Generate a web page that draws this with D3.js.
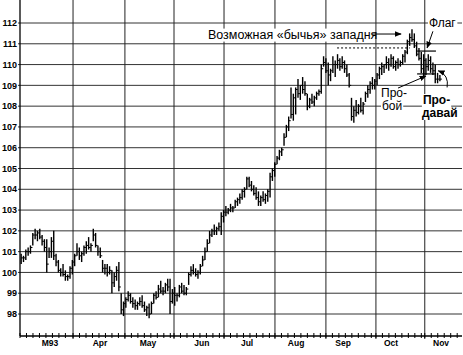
<!DOCTYPE html>
<html>
<head>
<meta charset="utf-8">
<script src="https://cdn.jsdelivr.net/npm/d3@7"></script>
<style>
body { margin: 0; background: #fff; }
svg { display: block; }
text { font-family: "Liberation Sans", Arial, sans-serif; fill: #000; }
</style>
</head>
<body>
<div id="chart"></div>
<script>
// daily high / low / close, Mar - Nov 1993
const hi = [
  100.9,100.8,101.1,101.2,101.3,101.9,102.1,102.0,102.1,101.8,
  101.6,101.6,101.2,101.7,102.0,100.9,100.6,100.2,100.4,100.1,
  99.9,100.3,100.6,100.9,101.4,101.2,101.0,101.3,101.5,101.7,
  101.4,102.1,101.9,101.3,101.2,100.6,100.4,100.4,100.3,100.1,
  100.0,100.3,100.5,99.0,98.6,98.8,99.1,99.0,98.8,98.7,
  98.6,98.8,98.9,98.6,98.4,98.5,98.6,99.0,99.1,99.4,
  99.6,99.3,99.5,99.7,99.7,99.2,99.3,99.0,99.4,99.5,
  99.4,99.3,100.0,100.3,100.4,100.2,100.1,100.4,100.8,101.2,
  101.6,102.0,102.1,102.3,102.2,102.4,102.9,103.0,103.2,103.1,
  103.3,103.2,103.5,103.6,103.8,104.0,104.1,104.6,104.6,104.4,
  104.2,104.1,103.9,103.7,103.9,103.8,104.0,104.8,105.0,105.3,
  105.6,105.9,106.0,106.7,107.1,107.5,108.9,108.6,108.9,109.3,
  109.0,109.4,109.2,108.6,108.4,108.6,108.5,108.7,108.8,110.0,
  110.4,110.3,110.1,109.8,110.4,110.2,110.5,110.3,110.4,110.2,
  110.0,109.6,108.4,108.0,108.3,108.1,108.4,108.2,108.7,109.0,
  109.2,109.4,109.3,109.6,109.9,110.1,110.0,110.4,110.3,110.5,
  110.4,110.2,110.3,110.2,110.5,110.7,111.2,111.5,111.7,111.5,
  111.1,110.8,110.6,110.5,110.3,110.5,110.4,110.1,110.0,109.6,
  109.5
];
const lo = [
  100.4,100.5,100.6,100.8,100.9,101.3,101.6,101.5,101.6,101.3,
  101.0,100.0,100.7,100.7,100.6,100.3,100.0,99.8,99.8,99.6,
  99.6,99.7,99.9,100.3,100.8,100.6,100.5,100.8,100.9,101.1,
  101.0,101.5,101.2,100.8,100.7,100.0,99.9,99.8,99.9,99.0,
  99.3,99.6,99.1,98.0,97.9,98.3,98.6,98.5,98.3,98.2,
  98.2,98.4,98.3,98.1,97.9,97.8,98.0,98.5,98.7,98.8,
  99.0,98.9,99.0,99.1,98.0,98.5,98.4,98.6,98.8,99.0,
  98.9,98.9,99.4,99.8,99.9,99.8,99.7,99.9,100.3,100.6,
  101.0,101.4,101.7,101.8,101.8,102.0,101.8,102.4,102.7,102.8,
  102.9,102.9,103.1,103.2,103.3,103.5,103.6,104.0,104.1,103.9,
  103.7,103.5,103.2,103.2,103.4,103.3,103.4,103.6,104.4,104.6,
  105.2,105.4,105.6,106.1,106.5,106.8,107.4,107.3,107.6,108.4,
  108.3,108.6,108.5,107.8,107.9,108.1,108.0,108.3,108.5,108.6,
  109.9,109.6,109.0,109.2,109.6,109.4,109.8,109.7,109.8,109.6,
  109.4,108.9,107.3,107.2,107.5,107.6,107.7,107.6,108.2,108.4,
  108.6,108.8,108.8,109.0,109.3,109.5,109.6,109.8,109.7,109.9,
  109.8,109.7,109.8,109.9,110.0,110.1,110.5,110.9,111.1,110.8,
  110.4,110.2,109.6,109.4,109.5,109.7,109.6,109.5,109.1,109.1,
  109.2
];
const cl = [
  100.7,100.7,101.0,101.0,101.2,101.8,101.8,101.9,101.7,101.5,
  101.2,100.4,101.0,101.5,100.8,100.5,100.1,100.0,99.9,99.8,
  99.8,100.2,100.5,100.8,101.0,100.8,100.9,101.2,101.3,101.2,
  101.3,101.8,101.3,101.0,100.8,100.2,100.2,100.0,100.1,99.5,
  99.8,100.1,99.3,98.2,98.5,98.7,98.9,98.6,98.5,98.4,
  98.5,98.6,98.4,98.2,98.3,98.0,98.5,98.9,98.8,99.2,
  99.1,99.1,99.4,99.3,98.6,99.0,98.9,98.9,99.3,99.1,
  99.0,99.2,99.9,100.1,100.0,99.9,100.0,100.3,100.6,101.0,
  101.4,101.8,102.0,102.0,102.1,102.2,102.7,102.9,102.9,103.0,
  103.1,103.1,103.4,103.5,103.6,103.9,104.0,104.5,104.2,104.0,
  103.8,103.6,103.4,103.6,103.5,103.7,103.9,104.6,104.9,105.2,
  105.5,105.8,105.9,106.5,107.0,107.3,107.6,108.4,108.8,108.6,
  109.0,108.8,108.6,108.0,108.3,108.2,108.4,108.6,108.7,109.8,
  110.1,109.7,109.5,109.7,110.0,110.0,110.2,109.9,110.1,109.8,
  109.5,109.0,107.5,107.8,107.7,108.0,107.8,108.1,108.6,108.8,
  109.1,109.0,109.2,109.5,109.8,109.9,110.0,110.1,110.0,110.3,
  109.9,110.1,110.0,110.1,110.4,110.6,111.1,111.3,111.2,110.9,
  110.5,110.3,109.8,110.2,109.9,110.2,109.8,109.7,109.3,109.3,
  109.3
];

const priceTicks = [98,99,100,101,102,103,104,105,106,107,108,109,110,111,112];
const monthBreaks = [22.8, 45.1, 66.2, 87.7, 109.6, 131.5, 153.0, 174.0];
const monthNames = ['M93','Apr','May','Jun','Jul','Aug','Sep','Oct','Nov'];
const monthMid = [12.9, 34.4, 55.0, 78.2, 97.6, 118.7, 138.9, 159.5, 181.0];

var width = 463, height = 355;
var left = 20, right = 462, bottom = 336;

const x = d3.scaleLinear().domain([0, 190]).range([left, right]);
const y = d3.scaleLinear().domain([98, 112]).range([314, 23]);

const svg = d3.select('#chart').append('svg')
  .attr('width', width).attr('height', height);

const defs = svg.append('defs');
defs.append('marker')
  .attr('id', 'arr').attr('viewBox', '0 0 10 10')
  .attr('refX', 9).attr('refY', 5)
  .attr('markerWidth', 7).attr('markerHeight', 7)
  .attr('orient', 'auto-start-reverse')
  .append('path').attr('d', 'M0,1 L10,5 L0,9 Z').attr('fill', '#000');

// grid
svg.append('g').selectAll('line')
  .data(priceTicks).enter().append('line')
  .attr('x1', left - 2).attr('x2', right)
  .attr('y1', d => y(d)).attr('y2', d => y(d))
  .attr('stroke', '#333').attr('stroke-width', 1);

svg.append('g').selectAll('line')
  .data(monthBreaks).enter().append('line')
  .attr('x1', d => x(d)).attr('x2', d => x(d))
  .attr('y1', 0).attr('y2', bottom + 3)
  .attr('stroke', '#222').attr('stroke-width', 1);

// axes
svg.append('line').attr('x1', left).attr('x2', left).attr('y1', 0).attr('y2', bottom)
  .attr('stroke', '#000').attr('stroke-width', 1.3);
svg.append('line').attr('x1', left).attr('x2', right).attr('y1', bottom).attr('y2', bottom)
  .attr('stroke', '#000').attr('stroke-width', 1.3);

svg.append('g').selectAll('text')
  .data(priceTicks).enter().append('text')
  .attr('x', 17).attr('y', d => y(d)).attr('dy', '0.35em')
  .attr('text-anchor', 'end')
  .style('font-size', '9px').style('font-weight', 'bold')
  .text(d => d);

// minor ticks on time axis
const bounds = [0, ...monthBreaks, 190];
const minor = [];
for (let k = 0; k < bounds.length - 1; k++) {
  const step = (monthBreaks[1] - monthBreaks[0]) / 8;
  for (let t = bounds[k]; t < bounds[k + 1] - 0.5; t += step) minor.push(t);
}
svg.append('g').selectAll('line')
  .data(minor).enter().append('line')
  .attr('x1', d => x(d)).attr('x2', d => x(d))
  .attr('y1', bottom - 3).attr('y2', bottom + 2)
  .attr('stroke', '#000').attr('stroke-width', 1);

svg.append('g').selectAll('text')
  .data(monthNames).enter().append('text')
  .attr('x', (d, i) => x(monthMid[i])).attr('y', 346)
  .attr('text-anchor', 'middle')
  .style('font-size', '8.5px').style('font-weight', 'bold')
  .text(d => d);

// price bars
const bars = svg.append('g');
bars.selectAll('line.hl')
  .data(hi).enter().append('line').attr('class', 'hl')
  .attr('x1', (d, i) => x(i + 0.5)).attr('x2', (d, i) => x(i + 0.5))
  .attr('y1', d => y(d)).attr('y2', (d, i) => y(lo[i]))
  .attr('stroke', '#000').attr('stroke-width', 1.4);
bars.selectAll('line.cl')
  .data(cl).enter().append('line').attr('class', 'cl')
  .attr('x1', (d, i) => x(i + 0.5)).attr('x2', (d, i) => x(i + 0.5) + 2)
  .attr('y1', d => y(d)).attr('y2', d => y(d))
  .attr('stroke', '#000').attr('stroke-width', 1);

// annotations (day, price)
const ann = svg.append('g');

function label(px, py, str, bold) {
  const g = ann.append('g');
  const t = g.append('text').attr('x', x(px)).attr('y', y(py))
    .style('font-size', '12px').style('font-weight', bold ? 'bold' : 'normal')
    .text(str);
  const b = t.node().getBBox();
  g.insert('rect', 'text')
    .attr('x', b.x - 1).attr('y', b.y + 1).attr('width', b.width + 2).attr('height', b.height - 1)
    .attr('fill', '#fff');
  return t;
}

label(80.8, 111.25, 'Возможная «бычья» западня').style('font-size', '12.5px');
ann.append('line')
  .attr('x1', x(151.3)).attr('x2', x(163.8)).attr('y1', y(111.47)).attr('y2', y(111.47))
  .attr('stroke', '#000').attr('stroke-width', 1).attr('marker-end', 'url(#arr)');
ann.append('line')
  .attr('x1', x(136.3)).attr('x2', x(167.6)).attr('y1', y(110.8)).attr('y2', y(110.8))
  .attr('stroke', '#000').attr('stroke-width', 1).attr('stroke-dasharray', '2,2');

label(175.8, 111.8, 'Флаг');
ann.append('line')
  .attr('x1', x(177.5)).attr('x2', x(175)).attr('y1', y(111.6)).attr('y2', y(110.8))
  .attr('stroke', '#000').attr('stroke-width', 1).attr('marker-end', 'url(#arr)');
[110.65, 109.55].forEach(p => {
  ann.append('line')
    .attr('x1', x(170.7)).attr('x2', x(178.8)).attr('y1', y(p)).attr('y2', y(p))
    .attr('stroke', '#000').attr('stroke-width', 1.2);
});

label(155.2, 108.44, 'Про-');
label(155.6, 107.81, 'бой');
ann.append('line')
  .attr('x1', x(162.5)).attr('x2', x(174.5)).attr('y1', y(108.87)).attr('y2', y(109.45))
  .attr('stroke', '#000').attr('stroke-width', 1).attr('marker-end', 'url(#arr)');

label(173.2, 108.1, 'Про-', true);
label(172.8, 107.48, 'давай', true);
ann.append('path')
  .attr('d', 'M' + x(183.6) + ',' + y(108.9) + ' Q' + x(184.5) + ',' + y(109.5) + ' ' + x(179.8) + ',' + y(109.7))
  .attr('fill', 'none').attr('stroke', '#000').attr('stroke-width', 1).attr('marker-end', 'url(#arr)');
</script>
</body>
</html>
